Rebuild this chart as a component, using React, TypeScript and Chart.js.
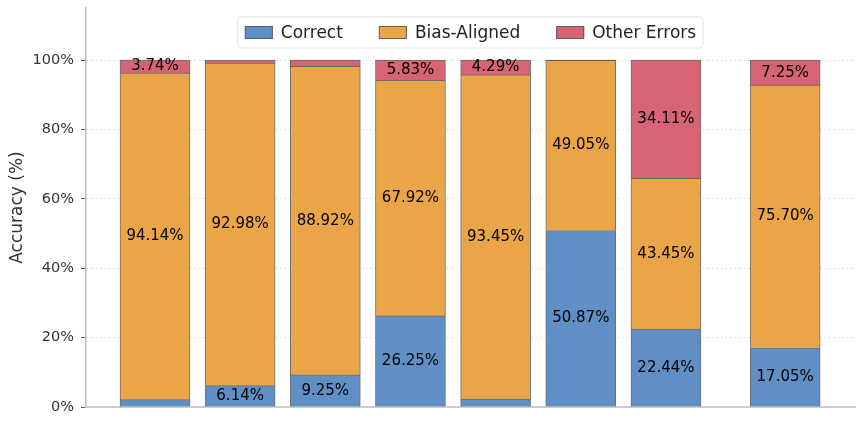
import React, { useEffect, useRef } from 'react';
import Chart from 'chart.js/auto';

// bar positions on the x axis (last bar set apart a little)
const positions = [0, 1, 2, 3, 4, 5, 6, 7.4];
const correct = [2.12, 6.14, 9.25, 26.25, 2.26, 50.87, 22.44, 17.05];
const biasAligned = [94.14, 92.98, 88.92, 67.92, 93.45, 49.05, 43.45, 75.7];
const otherErrors = [3.74, 0.88, 1.83, 5.83, 4.29, 0.08, 34.11, 7.25];
const seriesNames = ['Correct', 'Bias-Aligned', 'Other Errors'];
const seriesColors = ['#5f8fc4', '#eaa548', '#d66474'];
const yTicks = [0, 20, 40, 60, 80, 100];

const FONT = "'DejaVu Sans', sans-serif";
const EDGE = 'rgba(85, 85, 85, 0.85)';

// percentage text in the middle of each segment (small ones skipped)
const segmentLabels = {
  id: 'segmentLabels',
  afterDatasetsDraw(chart: any) {
    const ctx = chart.ctx;
    ctx.save();
    ctx.font = `15px ${FONT}`;
    ctx.fillStyle = '#000';
    ctx.textAlign = 'center';
    ctx.textBaseline = 'middle';
    chart.data.datasets.forEach((ds: any, di: number) => {
      const meta = chart.getDatasetMeta(di);
      meta.data.forEach((bar: any, i: number) => {
        const v = ds.data[i].y;
        if (v < 3) return;
        const { x, y, base } = bar.getProps(['x', 'y', 'base'], true);
        ctx.fillText(v.toFixed(2) + '%', x, (y + base) / 2);
      });
    });
    ctx.restore();
  },
};

// legend drawn inside the plot, top centre
const insideLegend = {
  id: 'insideLegend',
  afterDraw(chart: any) {
    const ctx = chart.ctx;
    const area = chart.chartArea;
    const sw = 28, sh = 13, gap = 8, colGap = 36, pad = 7;
    ctx.save();
    ctx.font = `17px ${FONT}`;
    const widths = chart.data.datasets.map((d: any) => ctx.measureText(d.label).width);
    const total = widths.reduce((a: number, w: number) => a + sw + gap + w, 0) + colGap * (widths.length - 1) + pad * 2;
    const left = (area.left + area.right) / 2 - total / 2;
    const top = 17, h = 31, r = 4;

    ctx.beginPath();
    ctx.moveTo(left + r, top);
    ctx.lineTo(left + total - r, top);
    ctx.arcTo(left + total, top, left + total, top + r, r);
    ctx.lineTo(left + total, top + h - r);
    ctx.arcTo(left + total, top + h, left + total - r, top + h, r);
    ctx.lineTo(left + r, top + h);
    ctx.arcTo(left, top + h, left, top + h - r, r);
    ctx.lineTo(left, top + r);
    ctx.arcTo(left, top, left + r, top, r);
    ctx.closePath();
    ctx.fillStyle = 'rgba(255,255,255,0.8)';
    ctx.fill();
    ctx.strokeStyle = '#e3e3e3';
    ctx.lineWidth = 1;
    ctx.stroke();

    let x = left + pad;
    const cy = top + h / 2;
    chart.data.datasets.forEach((d: any, i: number) => {
      ctx.fillStyle = d.backgroundColor;
      ctx.fillRect(x, cy - sh / 2, sw, sh);
      ctx.strokeStyle = EDGE;
      ctx.strokeRect(x + 0.5, cy - sh / 2 + 0.5, sw - 1, sh - 1);
      ctx.fillStyle = '#222';
      ctx.textBaseline = 'middle';
      ctx.fillText(d.label, x + sw + gap, cy + 1);
      x += sw + gap + widths[i] + colGap;
    });
    ctx.restore();
  },
};

const StackedAccuracyChart = () => {
  const chartRef = useRef<HTMLCanvasElement>(null);
  const chartInstanceRef = useRef<Chart>();

  useEffect(() => {
    document.body.style.margin = '0';
    if (!chartRef.current) return;
    const ctx = chartRef.current.getContext('2d');
    if (!ctx) return;
    if (chartInstanceRef.current) chartInstanceRef.current.destroy();

    const series = [correct, biasAligned, otherErrors];

    chartInstanceRef.current = new Chart(ctx, {
      type: 'bar',
      data: {
        datasets: series.map((vals, si) => ({
          label: seriesNames[si],
          data: vals.map((v, i) => ({ x: positions[i], y: v })),
          backgroundColor: seriesColors[si],
          borderColor: EDGE,
          borderWidth: 1,
          barThickness: 70,
        })),
      },
      options: {
        responsive: false,
        animation: false,
        layout: { padding: { left: 0, right: 9, top: 8, bottom: 18 } },
        plugins: {
          legend: { display: false },
          tooltip: { enabled: false },
        },
        scales: {
          x: {
            type: 'linear',
            stacked: true,
            offset: false,
            min: -0.81,
            max: 8.22,
            ticks: { display: false },
            grid: { display: false },
            border: { color: '#cccccc', width: 2 },
            afterFit: (s: any) => { s.height = 0; s.paddingLeft = 0; s.paddingRight = 0; },
          },
          y: {
            stacked: true,
            min: 0,
            max: 115,
            afterBuildTicks: (s: any) => { s.ticks = yTicks.map((v) => ({ value: v })); },
            afterFit: (s: any) => { s.width = 86; s.paddingTop = 0; s.paddingBottom = 0; },
            ticks: {
              callback: (v: any) => v + '%',
              color: '#333',
              font: { family: FONT, size: 14.5 },
              padding: 7,
            },
            grid: { color: '#d6d6d6', lineWidth: 1, tickLength: 5, tickColor: '#555', tickWidth: 1 },
            border: { color: '#bbbbbb', width: 1.5, dash: [1.5, 3] },
            title: {
              display: true,
              text: 'Accuracy (%)',
              color: '#333',
              font: { family: FONT, size: 17 },
              padding: { top: 7, bottom: 0 },
            },
          },
        },
      },
      plugins: [segmentLabels, insideLegend],
    } as any);

    return () => {
      if (chartInstanceRef.current) chartInstanceRef.current.destroy();
    };
  }, []);

  return (
    <div style={{ width: 864, height: 425 }}>
      <canvas ref={chartRef} width={864} height={425} />
    </div>
  );
};

export default function App() {
  return <StackedAccuracyChart />;
}
